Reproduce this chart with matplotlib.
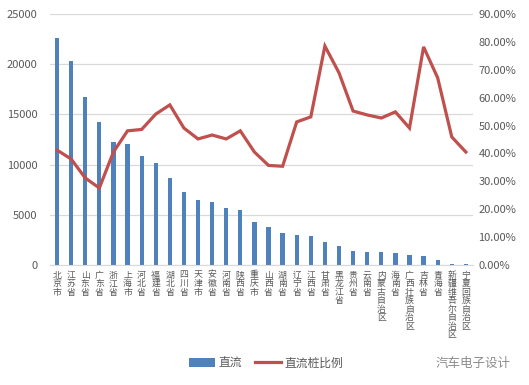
import matplotlib.pyplot as plt
from matplotlib.ticker import FuncFormatter

plt.rcParams['font.family'] = ['Noto Sans CJK SC', 'DejaVu Sans']

# provinces, DC charger counts and DC share (%)
provinces = ['北京市', '江苏省', '山东省', '广东省', '浙江省', '上海市', '河北省', '福建省',
             '湖北省', '四川省', '天津市', '安徽省', '河南省', '陕西省', '重庆市', '山西省',
             '湖南省', '辽宁省', '江西省', '甘肃省', '黑龙江省', '贵州省', '云南省',
             '内蒙古自治区', '海南省', '广西壮族自治区', '吉林省', '青海省',
             '新疆维吾尔自治区', '宁夏回族自治区']
dc = [22600, 20300, 16750, 14250, 12250, 12050, 10870, 10170, 8670, 7270,
      6480, 6280, 5680, 5480, 4300, 3790, 3200, 2950, 2920, 2330,
      1920, 1420, 1320, 1250, 1230, 950, 920, 520, 130, 120]
ratio = [41.2, 38.0, 31.2, 27.6, 40.5, 48.1, 48.6, 54.1, 57.4, 49.1,
         45.2, 46.6, 45.2, 48.1, 40.5, 35.7, 35.4, 51.3, 53.1, 78.5,
         68.9, 55.2, 53.8, 52.7, 54.9, 49.1, 78.2, 67.1, 45.9, 40.5]

BAR_C = '#4F81BD'
LINE_C = '#C0504D'
TXT_C = '#595959'

fig = plt.figure(figsize=(5.29, 3.85), dpi=100)
ax = fig.add_axes([0.0945, 0.3117, 0.7995, 0.652])
x = list(range(len(provinces)))
bars = ax.bar(x, dc, width=0.3, color=BAR_C, label='直流', zorder=2)
ax.set_ylim(0, 25000)
ax.set_yticks(range(0, 25001, 5000))
ax.set_xlim(-0.5, len(provinces) - 0.5)
ax.grid(axis='y', color='#D9D9D9', linewidth=0.9, zorder=0)
ax.set_axisbelow(True)
for s in ['top', 'right', 'left']:
    ax.spines[s].set_visible(False)
ax.spines['bottom'].set_color('#D9D9D9')
ax.tick_params(axis='both', length=0, colors=TXT_C, labelsize=8)
ax.tick_params(axis='y', pad=9)
ax.set_xticks(x)
ax.set_xticklabels(['\n'.join(p) for p in provinces], fontsize=6.4,
                   linespacing=0.93, va='top')
ax.tick_params(axis='x', pad=4)

ax2 = ax.twinx()
line, = ax2.plot(x, ratio, color=LINE_C, linewidth=2.3, label='直流桩比例',
                 solid_joinstyle='miter', zorder=3)
ax2.set_ylim(0, 90)
ax2.set_yticks(range(0, 91, 10))
ax2.yaxis.set_major_formatter(FuncFormatter(lambda v, p: '%.2f%%' % v))
for s in ['top', 'right', 'left', 'bottom']:
    ax2.spines[s].set_visible(False)
ax2.tick_params(axis='y', length=0, colors=TXT_C, labelsize=8, pad=4)

fig.legend([bars, line], ['直流', '直流桩比例'], loc='center',
           bbox_to_anchor=(0.503, 0.057), ncol=2, frameon=False, fontsize=8.5,
           handlelength=2.2, columnspacing=1.1, handletextpad=0.3,
           labelcolor=TXT_C)

fig.text(0.965, 0.057, '汽车电子设计', ha='right', va='center', fontsize=9,
         color='#8C8C8C')

fig.savefig('out.png', dpi=100)
